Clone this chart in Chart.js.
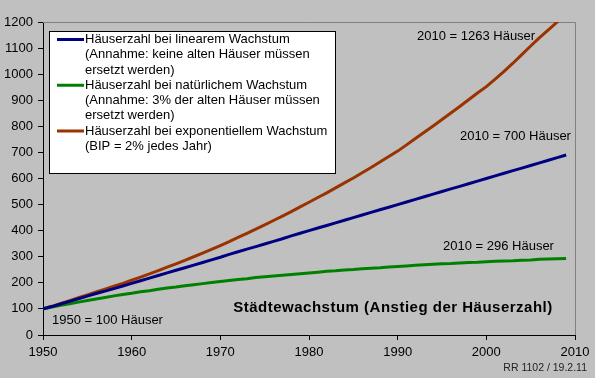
<!DOCTYPE html>
<html>
<head>
<meta charset="utf-8">
<script src="https://cdn.jsdelivr.net/npm/chart.js@4"></script>
<style>
  body { margin: 0; background: #c0c0c0; }
  #wrap { width: 595px; height: 378px; }
</style>
</head>
<body>
<div id="wrap"><canvas id="myChart" width="595" height="378"></canvas></div>
<script>
// years 1950 .. 2009
const years = Array.from({ length: 60 }, (_, i) => 1950 + i);

// one value per year
const linear = [100, 109, 119, 129, 139, 149, 159, 168, 178, 188,
  198, 208, 218, 228, 238, 248, 258, 268, 278, 288,
  298, 309, 319, 329, 339, 349, 359, 369, 380, 390,
  400, 410, 420, 430, 440, 450, 460, 470, 480, 490,
  500, 510, 520, 530, 540, 550, 560, 570, 580, 590,
  600, 610, 620, 630, 640, 650, 660, 670, 680, 690];

const natural = [100, 107, 114, 120, 126, 132, 138, 144, 150, 155,
  160, 166, 170, 175, 180, 184, 189, 193, 197, 201,
  205, 209, 213, 216, 220, 223, 226, 229, 232, 235,
  238, 241, 244, 246, 249, 251, 254, 256, 258, 261,
  263, 265, 267, 269, 271, 273, 274, 276, 278, 279,
  281, 283, 284, 285, 287, 288, 290, 291, 292, 293];

const exponential = [100, 110, 121, 132, 143, 154, 165, 176, 187, 198,
  210, 222, 234, 247, 260, 273, 286, 300, 314, 328,
  343, 358, 374, 390, 406, 422, 439, 456, 473, 491,
  509, 527, 545, 564, 583, 602, 622, 642, 663, 684,
  705, 729, 753, 777, 801, 826, 851, 876, 902, 928,
  952, 981, 1011, 1042, 1075, 1108, 1140, 1170, 1200, 1232];

const xTicks = [1950, 1960, 1970, 1980, 1990, 2000, 2010];

const seriesLabels = [
  ["Häuserzahl bei linearem Wachstum", "(Annahme: keine alten Häuser müssen", "ersetzt werden)"],
  ["Häuserzahl bei natürlichem Wachstum", "(Annahme: 3% der alten Häuser müssen", "ersetzt werden)"],
  ["Häuserzahl bei exponentiellem Wachstum", "(BIP = 2% jedes Jahr)"]
];

const notes = [
  { text: "2010 = 1263 Häuser", x: 417, y: 36 },
  { text: "2010 = 700 Häuser", x: 460, y: 136 },
  { text: "2010 = 296 Häuser", x: 443, y: 246 },
  { text: "1950 = 100 Häuser", x: 52, y: 320 }
];

const FONT = '"Liberation Sans", Arial, sans-serif';

const toPoints = vals => vals.map((v, i) => ({ x: years[i], y: v }));

const frame = {
  id: "frame",
  beforeDatasetsDraw(chart) {
    const { ctx, chartArea: a } = chart;
    ctx.save();
    ctx.strokeStyle = "#808080";
    ctx.lineWidth = 1;
    ctx.beginPath();
    ctx.moveTo(a.left, a.top + 0.5);
    ctx.lineTo(a.right + 0.5, a.top + 0.5);
    ctx.lineTo(a.right + 0.5, a.bottom);
    ctx.stroke();
    ctx.restore();
  }
};

const boxLegend = {
  id: "boxLegend",
  afterDraw(chart) {
    const ctx = chart.ctx;
    ctx.save();
    ctx.fillStyle = "#fff";
    ctx.fillRect(49, 31, 286, 142);
    ctx.strokeStyle = "#000";
    ctx.lineWidth = 1;
    ctx.strokeRect(49.5, 31.5, 286, 142);
    ctx.font = "13px " + FONT;
    ctx.textBaseline = "middle";
    let y = 39.5;
    chart.data.datasets.forEach(ds => {
      ctx.strokeStyle = ds.borderColor;
      ctx.lineWidth = 3;
      ctx.beginPath();
      ctx.moveTo(57, y);
      ctx.lineTo(84, y);
      ctx.stroke();
      ctx.fillStyle = "#000";
      ds.label.forEach(line => {
        ctx.fillText(line, 85, y);
        y += 15.25;
      });
    });

    notes.forEach(n => ctx.fillText(n.text, n.x, n.y));

    ctx.font = "bold 15px " + FONT;
    ctx.letterSpacing = "0.5px";
    ctx.textAlign = "center";
    ctx.fillText("Städtewachstum (Anstieg der Häuserzahl)", 393, 308);
    ctx.letterSpacing = "0px";

    ctx.font = "10.5px " + FONT;
    ctx.textAlign = "right";
    ctx.fillStyle = "#222";
    ctx.fillText("RR 1102 / 19.2.11", 587, 368);
    ctx.restore();
  }
};

const ctx = document.getElementById("myChart").getContext("2d");
const chart = new Chart(ctx, {
  type: "line",
  data: {
    datasets: [
      { label: seriesLabels[0], data: toPoints(linear), borderColor: "#000080" },
      { label: seriesLabels[1], data: toPoints(natural), borderColor: "#008000" },
      { label: seriesLabels[2], data: toPoints(exponential), borderColor: "#993300" }
    ]
  },
  options: {
    responsive: false,
    animation: false,
    events: [],
    layout: { padding: { top: 22, right: 20, left: 0, bottom: 0 } },
    elements: {
      line: { borderWidth: 3, tension: 0 },
      point: { radius: 0 }
    },
    plugins: { legend: { display: false }, tooltip: { enabled: false } },
    scales: {
      x: {
        type: "linear",
        min: 1950,
        max: 2010,
        afterFit: s => { s.height = 43; },
        afterBuildTicks: s => { s.ticks = xTicks.map(v => ({ value: v })); },
        grid: { drawOnChartArea: false, tickLength: 5, color: "#000" },
        border: { color: "#000", width: 1 },
        ticks: {
          color: "#000",
          padding: 5,
          maxRotation: 0,
          autoSkip: false,
          font: { family: FONT, size: 13 },
          callback: v => String(v)
        }
      },
      y: {
        min: 0,
        max: 1200,
        afterFit: s => { s.width = 43; },
        grid: { drawOnChartArea: false, tickLength: 5, color: "#000" },
        border: { color: "#000", width: 1 },
        ticks: {
          stepSize: 100,
          color: "#000",
          padding: 5,
          font: { family: FONT, size: 13 },
          callback: v => String(v)
        }
      }
    }
  },
  plugins: [frame, boxLegend]
});
</script>
</body>
</html>
